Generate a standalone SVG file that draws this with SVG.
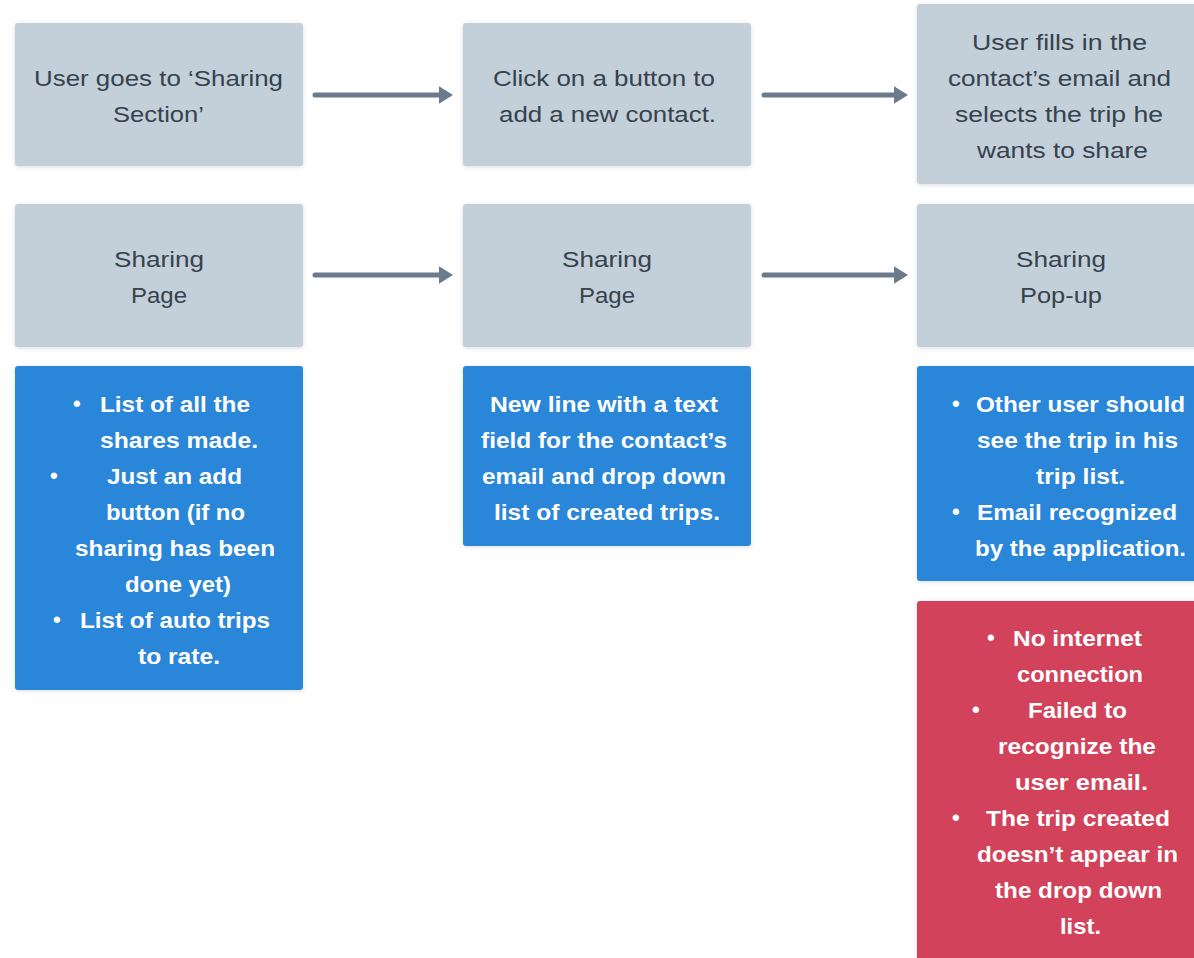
<svg xmlns="http://www.w3.org/2000/svg" width="1194" height="958" viewBox="0 0 1194 958">
<defs>
<filter id="sh" x="-10%" y="-10%" width="120%" height="120%">
<feDropShadow dx="0" dy="1" stdDeviation="2" flood-color="#8a9aa8" flood-opacity="0.35"/>
</filter>
<marker id="ah" viewBox="0 0 8 10" refX="4" refY="5" markerWidth="2.8" markerHeight="3.6" orient="auto" markerUnits="strokeWidth">
<path d="M0,0 L8,5 L0,10 z" fill="#6b7b8b"/>
</marker>
</defs>
<style>
.g{fill:#c3cfd9;filter:url(#sh)}
.b{fill:#2a86d9;filter:url(#sh)}
.r{fill:#d2435a;filter:url(#sh)}
.t{font-family:"Liberation Sans",Arial,sans-serif;font-size:22px;fill:#36424e;text-anchor:middle}
.w{font-family:"Liberation Sans",Arial,sans-serif;font-size:22px;font-weight:bold;fill:#ffffff;text-anchor:start}
.a{stroke:#6b7b8b;stroke-width:5;stroke-linecap:round;fill:none;marker-end:url(#ah)}
</style>
<rect width="1194" height="958" fill="#ffffff"/>
<g id="connectors">
<line class="a" x1="315" y1="95" x2="446" y2="95"/>
<line class="a" x1="764" y1="95" x2="901" y2="95"/>
<line class="a" x1="315" y1="275" x2="446" y2="275"/>
<line class="a" x1="764" y1="275" x2="901" y2="275"/>
</g>
<g id="n1">
<rect class="g" x="15" y="23" width="288" height="143" rx="3"/>
<text class="t" x="158.5" y="86" textLength="249" lengthAdjust="spacingAndGlyphs">User goes to ‘Sharing</text>
<text class="t" x="158.5" y="122" textLength="91" lengthAdjust="spacingAndGlyphs">Section’</text>
</g>
<g id="n2">
<rect class="g" x="463" y="23" width="288" height="143" rx="3"/>
<text class="t" x="604" y="86" textLength="222" lengthAdjust="spacingAndGlyphs">Click on a button to</text>
<text class="t" x="607.5" y="122" textLength="217" lengthAdjust="spacingAndGlyphs">add a new contact.</text>
</g>
<g id="n3">
<rect class="g" x="917" y="4" width="290" height="180" rx="3"/>
<text class="t" x="1059.5" y="50" textLength="175" lengthAdjust="spacingAndGlyphs">User fills in the</text>
<text class="t" x="1059.5" y="86" textLength="223" lengthAdjust="spacingAndGlyphs">contact’s email and</text>
<text class="t" x="1059" y="122" textLength="208" lengthAdjust="spacingAndGlyphs">selects the trip he</text>
<text class="t" x="1062.5" y="158" textLength="171" lengthAdjust="spacingAndGlyphs">wants to share</text>
</g>
<g id="n4">
<rect class="g" x="15" y="204" width="288" height="143" rx="3"/>
<text class="t" x="159" y="267" textLength="90" lengthAdjust="spacingAndGlyphs">Sharing</text>
<text class="t" x="159" y="303" textLength="56" lengthAdjust="spacingAndGlyphs">Page</text>
</g>
<g id="n5">
<rect class="g" x="463" y="204" width="288" height="143" rx="3"/>
<text class="t" x="607" y="267" textLength="90" lengthAdjust="spacingAndGlyphs">Sharing</text>
<text class="t" x="607" y="303" textLength="56" lengthAdjust="spacingAndGlyphs">Page</text>
</g>
<g id="n6">
<rect class="g" x="917" y="204" width="290" height="143" rx="3"/>
<text class="t" x="1061" y="267" textLength="90" lengthAdjust="spacingAndGlyphs">Sharing</text>
<text class="t" x="1061" y="303" textLength="82" lengthAdjust="spacingAndGlyphs">Pop-up</text>
</g>
<g id="n7">
<rect class="b" x="15" y="366" width="288" height="324" rx="3"/>
<text class="w" x="73" y="411">•</text>
<text class="w" x="100" y="412" textLength="150" lengthAdjust="spacingAndGlyphs">List of all the</text>
<text class="w" x="100" y="448" textLength="158" lengthAdjust="spacingAndGlyphs">shares made.</text>
<text class="w" x="50" y="483">•</text>
<text class="w" x="107" y="484" textLength="135" lengthAdjust="spacingAndGlyphs">Just an add</text>
<text class="w" x="106" y="520" textLength="139" lengthAdjust="spacingAndGlyphs">button (if no</text>
<text class="w" x="75" y="556" textLength="200" lengthAdjust="spacingAndGlyphs">sharing has been</text>
<text class="w" x="125" y="592" textLength="106" lengthAdjust="spacingAndGlyphs">done yet)</text>
<text class="w" x="53" y="627">•</text>
<text class="w" x="80" y="628" textLength="190" lengthAdjust="spacingAndGlyphs">List of auto trips</text>
<text class="w" x="138" y="664" textLength="82" lengthAdjust="spacingAndGlyphs">to rate.</text>
</g>
<g id="n8">
<rect class="b" x="463" y="366" width="288" height="180" rx="3"/>
<text class="w" x="490" y="412" textLength="228" lengthAdjust="spacingAndGlyphs">New line with a text</text>
<text class="w" x="481" y="448" textLength="246" lengthAdjust="spacingAndGlyphs">field for the contact’s</text>
<text class="w" x="482" y="484" textLength="244" lengthAdjust="spacingAndGlyphs">email and drop down</text>
<text class="w" x="494" y="520" textLength="226" lengthAdjust="spacingAndGlyphs">list of created trips.</text>
</g>
<g id="n9">
<rect class="b" x="917" y="366" width="290" height="215" rx="3"/>
<text class="w" x="952" y="411">•</text>
<text class="w" x="976" y="412" textLength="209" lengthAdjust="spacingAndGlyphs">Other user should</text>
<text class="w" x="977" y="448" textLength="201" lengthAdjust="spacingAndGlyphs">see the trip in his</text>
<text class="w" x="1036" y="484" textLength="89" lengthAdjust="spacingAndGlyphs">trip list.</text>
<text class="w" x="952" y="519">•</text>
<text class="w" x="977" y="520" textLength="200" lengthAdjust="spacingAndGlyphs">Email recognized</text>
<text class="w" x="975" y="556" textLength="211" lengthAdjust="spacingAndGlyphs">by the application.</text>
</g>
<g id="n10">
<rect class="r" x="917" y="601" width="290" height="370" rx="3"/>
<text class="w" x="987" y="645">•</text>
<text class="w" x="1013" y="646" textLength="129" lengthAdjust="spacingAndGlyphs">No internet</text>
<text class="w" x="1017" y="682" textLength="126" lengthAdjust="spacingAndGlyphs">connection</text>
<text class="w" x="972" y="717">•</text>
<text class="w" x="1028" y="718" textLength="99" lengthAdjust="spacingAndGlyphs">Failed to</text>
<text class="w" x="998" y="754" textLength="158" lengthAdjust="spacingAndGlyphs">recognize the</text>
<text class="w" x="1015" y="790" textLength="133" lengthAdjust="spacingAndGlyphs">user email.</text>
<text class="w" x="952" y="825">•</text>
<text class="w" x="986" y="826" textLength="184" lengthAdjust="spacingAndGlyphs">The trip created</text>
<text class="w" x="977" y="862" textLength="201" lengthAdjust="spacingAndGlyphs">doesn’t appear in</text>
<text class="w" x="995" y="898" textLength="167" lengthAdjust="spacingAndGlyphs">the drop down</text>
<text class="w" x="1060" y="934" textLength="41" lengthAdjust="spacingAndGlyphs">list.</text>
</g>
</svg>
